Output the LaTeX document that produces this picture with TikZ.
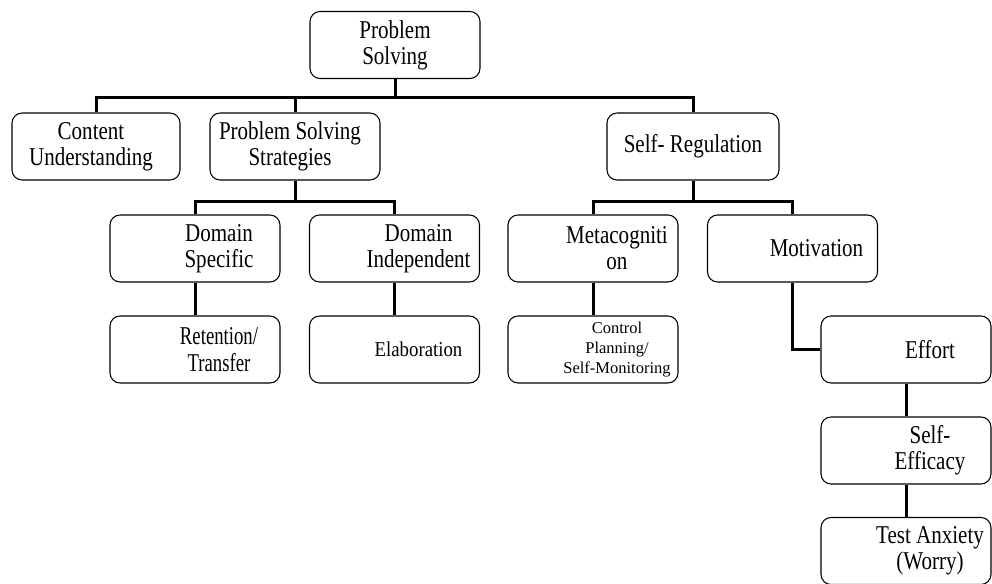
\documentclass[tikz,border=0pt]{standalone}
\usepackage{fontspec}
\setmainfont{Liberation Serif}[FakeStretch=0.82]
\newfontfamily\narrowfont{Liberation Serif}[FakeStretch=0.73]
\newfontfamily\elabfont{Liberation Serif}[FakeStretch=0.89]
\newfontfamily\plainfont{Liberation Serif}
\usetikzlibrary{calc}
\newcommand{\bigtxt}{\fontsize{14.6}{14.8}\selectfont}
\newcommand{\midtxt}{\narrowfont\fontsize{14.6}{15.3}\selectfont}
\newcommand{\elabtxt}{\elabfont\fontsize{12}{14}\selectfont}
\newcommand{\smalltxt}{\plainfont\fontsize{9.4}{11.3}\selectfont}
\tikzset{
  box/.style={draw, line width=0.6pt, rounded corners=0.2cm, minimum width=3.4cm, minimum height=1.34cm,
    align=center, font=\bigtxt},
  lbl/.style={xshift=0.48cm, align=center, font=\bigtxt},
  conn/.style={line width=0.06cm},
}
\begin{document}
\begin{tikzpicture}[x=0.02cm, y=-0.02cm]
  \useasboundingbox (0,0) rectangle (992,584);
  % top level
  \node[box] (ps) at (395,45) {Problem\\Solving};
  \node[box, minimum width=3.36cm, label={[lbl, xshift=-0.58cm]center:{Content\\Understanding}}] (cu) at (96,146.5) {};
  \node[box, label={[lbl, xshift=-0.58cm]center:{Problem Solving\\Strategies}}] (pss) at (295,146.5) {};
  \node[box, minimum width=3.44cm] (sr) at (693,146.5) {Self- Regulation};
  % second level
  \node[box, label={[lbl]center:{Domain\\Specific}}] (ds) at (195,248.5) {};
  \node[box, label={[lbl]center:{Domain\\Independent}}] (di) at (394.5,248.5) {};
  \node[box, label={[lbl]center:{Metacogniti\\on}}] (mc) at (593,248.5) {};
  \node[box, label={[lbl]center:{Motivation}}] (mo) at (792.5,248.5) {};
  % third level
  \node[box, label={[lbl, font=\midtxt]center:{Retention/\\Transfer}}] (rt) at (195,349.5) {};
  \node[box, label={[lbl, font=\elabtxt]center:{Elaboration}}] (el) at (394.5,349.5) {};
  \node[box, label={[lbl, font=\smalltxt]center:{Control\\Planning/\\Self-Monitoring}}] (cp) at (593,349.5) {};
  \node[box, label={[lbl]center:{Effort}}] (ef) at (906,349.5) {};
  \node[box, label={[lbl]center:{Self-\\Efficacy}}] (se) at (906,450.5) {};
  \node[box, label={[lbl]center:{Test Anxiety\\(Worry)}}] (ta) at (906,551) {};
  % buses
  \coordinate (bus1) at (0,98);
  \coordinate (bus2) at (0,202);
  \draw[conn] (ps.south) -- (ps.south |- bus1);
  \draw[conn] (cu.north) |- (sr.north |- bus1) -- (sr.north);
  \draw[conn] (pss.north) -- (pss.north |- bus1);
  \draw[conn] (pss.south) -- (pss.south |- bus2);
  \draw[conn] (ds.north) |- (di.north |- bus2) -- (di.north);
  \draw[conn] (sr.south) -- (sr.south |- bus2);
  \draw[conn] (mc.north) |- (mo.north |- bus2) -- (mo.north);
  % chains
  \draw[conn] (ds.south) -- (rt.north);
  \draw[conn] (di.south) -- (el.north);
  \draw[conn] (mc.south) -- (cp.north);
  \draw[conn] (mo.south) |- (ef.west);
  \draw[conn] (ef.south) -- (se.north);
  \draw[conn] (se.south) -- (ta.north);
\end{tikzpicture}
\end{document}
